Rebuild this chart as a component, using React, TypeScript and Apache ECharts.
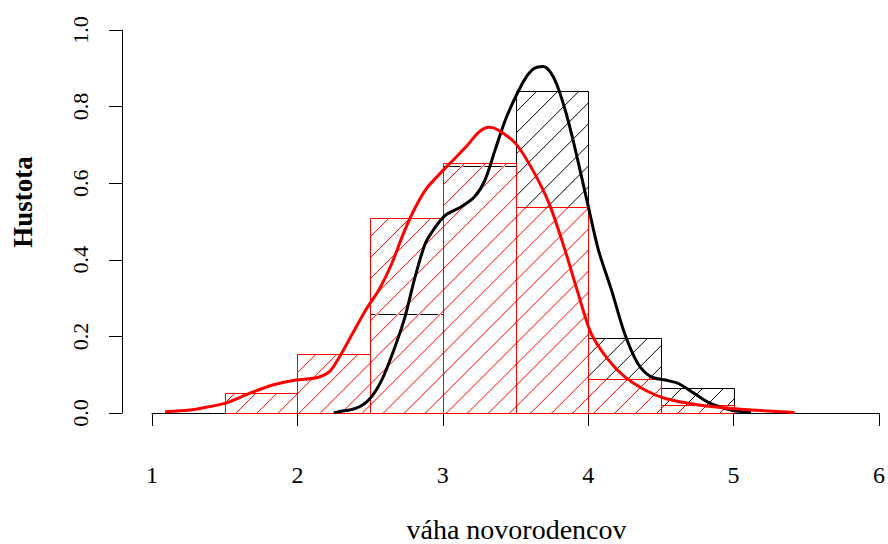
import React, { useEffect, useRef } from "react";
import * as echarts from "echarts";

// ---- data ----
const xTicks = [1, 2, 3, 4, 5, 6];
const yTicks = [0, 0.2, 0.4, 0.6, 0.8, 1.0];
const binWidth = 0.5;

// black histogram (density), bin lower edges
const blackBinStarts = [2.5, 3.0, 3.5, 4.0, 4.5];
const blackDensity = [0.259, 0.646, 0.841, 0.196, 0.065];

// red histogram (density), bin lower edges
const redBinStarts = [1.5, 2.0, 2.5, 3.0, 3.5, 4.0, 4.5];
const redDensity = [0.052, 0.153, 0.508, 0.653, 0.539, 0.088, 0.02];

// black density curve
const blackCurveX = [2.25, 2.28, 2.4, 2.49, 2.58, 2.68, 2.74, 2.81, 2.88, 2.95, 3.02, 3.13, 3.22, 3.29, 3.36, 3.43, 3.5, 3.57, 3.63, 3.69, 3.74, 3.79, 3.85, 3.91, 4.0, 4.07, 4.16, 4.25, 4.34, 4.43, 4.53, 4.62, 4.73, 4.84, 4.98, 5.12];
const blackCurveY = [0.0, 0.003, 0.012, 0.034, 0.086, 0.182, 0.251, 0.356, 0.443, 0.486, 0.517, 0.539, 0.565, 0.608, 0.687, 0.765, 0.825, 0.875, 0.9, 0.905, 0.89, 0.852, 0.78, 0.69, 0.54, 0.426, 0.321, 0.208, 0.13, 0.095, 0.086, 0.077, 0.051, 0.025, 0.008, 0.002];

// red density curve
const redCurveX = [1.09, 1.26, 1.33, 1.5, 1.67, 1.83, 1.99, 2.13, 2.22, 2.29, 2.38, 2.47, 2.56, 2.65, 2.72, 2.79, 2.88, 2.97, 3.06, 3.16, 3.25, 3.32, 3.38, 3.5, 3.61, 3.73, 3.84, 3.93, 4.02, 4.14, 4.25, 4.39, 4.53, 4.76, 4.98, 5.21, 5.42];
const redCurveY = [0.003, 0.008, 0.012, 0.025, 0.051, 0.073, 0.086, 0.092, 0.108, 0.147, 0.208, 0.269, 0.321, 0.391, 0.46, 0.521, 0.582, 0.621, 0.656, 0.695, 0.734, 0.746, 0.739, 0.704, 0.64, 0.548, 0.426, 0.313, 0.208, 0.138, 0.095, 0.06, 0.038, 0.021, 0.012, 0.006, 0.001];

const xTitle = "váha novorodencov";
const yTitle = "Hustota";

const SERIF = "'Liberation Serif', 'DejaVu Serif', serif";
const HATCH_SPACING = 21.04;

function hatchedBars(color: string, underlay: boolean) {
  return (params: any, api: any) => {
    const x0 = api.value(0);
    const x1 = api.value(1);
    const v = api.value(2);
    const p0 = api.coord([x0, v]);
    const p1 = api.coord([x1, 0]);
    const xl = Math.round(p0[0]) + 0.5;
    const xr = Math.round(p1[0]) + 0.5;
    const yt = Math.round(p0[1]) + 0.5;
    const yb = Math.round(p1[1]) + 0.5;
    const anchor = api.coord([xTicks[0], 0]);
    const a = anchor[0] + anchor[1];
    const under: any[] = [];
    const lines: any[] = [];
    const cMin = xl + yt;
    const cMax = xr + yb;
    let k = Math.ceil((cMin - a) / HATCH_SPACING);
    for (; a + k * HATCH_SPACING < cMax; k++) {
      const c = a + k * HATCH_SPACING;
      const xs = Math.max(xl, c - yb);
      const xe = Math.min(xr, c - yt);
      if (xe - xs > 0.3) {
        if (underlay) {
          const xs2 = Math.max(xl + 1, c - yb + 1);
          const xe2 = Math.min(xr - 1, c - yt - 1);
          if (xe2 > xs2) {
            under.push({
              type: "line",
              shape: { x1: xs2, y1: c - xs2, x2: xe2, y2: c - xe2 },
              style: { stroke: "#ffffff", lineWidth: 2.2 },
            });
          }
        }
        lines.push({
          type: "line",
          shape: { x1: xs, y1: c - xs, x2: xe, y2: c - xe },
          style: { stroke: color, lineWidth: 1 },
        });
      }
    }
    const rect = {
      type: "rect",
      shape: { x: xl, y: yt, width: xr - xl, height: yb - yt },
      style: { fill: "transparent", stroke: color, lineWidth: 1 },
    };
    return { type: "group", children: [...under, ...lines, rect] };
  };
}

export default function App() {
  const ref = useRef<HTMLDivElement>(null);
  useEffect(() => {
    if (!ref.current) return;
    const chart = echarts.init(ref.current, null, { renderer: "svg" });
    const blackBars = blackBinStarts.map((s, i) => [s, s + binWidth, blackDensity[i]]);
    const redBars = redBinStarts.map((s, i) => [s, s + binWidth, redDensity[i]]);
    const blackLine = blackCurveX.map((x, i) => [x, blackCurveY[i]]);
    const redLine = redCurveX.map((x, i) => [x, redCurveY[i]]);
    chart.setOption({
      animation: false,
      backgroundColor: "#ffffff",
      grid: { left: 152, right: 8, top: 30, bottom: 131, containLabel: false },
      xAxis: {
        type: "value",
        min: xTicks[0],
        max: xTicks[xTicks.length - 1],
        interval: 1,
        offset: 19,
        axisLine: { show: true, lineStyle: { color: "#000", width: 1 } },
        axisTick: { show: true, length: 13, lineStyle: { color: "#000", width: 1 } },
        axisLabel: {
          color: "#000",
          fontFamily: SERIF,
          fontSize: 24,
          margin: 31,
          formatter: (v: number) => String(v),
        },
        splitLine: { show: false },
      },
      yAxis: {
        type: "value",
        min: yTicks[0],
        max: yTicks[yTicks.length - 1],
        interval: 0.2,
        offset: 30,
        axisLine: { show: true, lineStyle: { color: "#000", width: 1 } },
        axisTick: { show: true, length: 13, lineStyle: { color: "#000", width: 1 } },
        axisLabel: {
          color: "#000",
          fontFamily: SERIF,
          fontSize: 22,
          rotate: 90,
          margin: 31,
          formatter: (v: number) => v.toFixed(1),
        },
        splitLine: { show: false },
      },
      graphic: [
        {
          type: "text",
          x: 22.6,
          y: 202,
          rotation: Math.PI / 2,
          style: {
            text: yTitle,
            fill: "#000",
            font: `bold 27px ${SERIF}`,
            align: "center",
            verticalAlign: "middle",
          },
        },
        {
          type: "text",
          x: 516.5,
          y: 529.5,
          style: {
            text: xTitle,
            fill: "#000",
            font: `28px ${SERIF}`,
            align: "center",
            verticalAlign: "middle",
          },
        },
      ],
      series: [
        {
          type: "custom",
          name: "black hist",
          renderItem: hatchedBars("#000000", false),
          encode: { x: [0, 1], y: 2 },
          data: blackBars,
          z: 1,
        },
        {
          type: "custom",
          name: "red hist",
          renderItem: hatchedBars("#ff0000", true),
          encode: { x: [0, 1], y: 2 },
          data: redBars,
          z: 2,
        },
        {
          type: "line",
          name: "black density",
          data: blackLine,
          smooth: 0.3,
          showSymbol: false,
          lineStyle: { color: "#000", width: 3 },
          z: 3,
        },
        {
          type: "line",
          name: "red density",
          data: redLine,
          smooth: 0.3,
          showSymbol: false,
          lineStyle: { color: "#ff0000", width: 3 },
          z: 4,
        },
      ],
    });
    return () => chart.dispose();
  }, []);
  return <div ref={ref} style={{ width: 888, height: 544, position: "absolute", left: 0, top: 0 }} />;
}
